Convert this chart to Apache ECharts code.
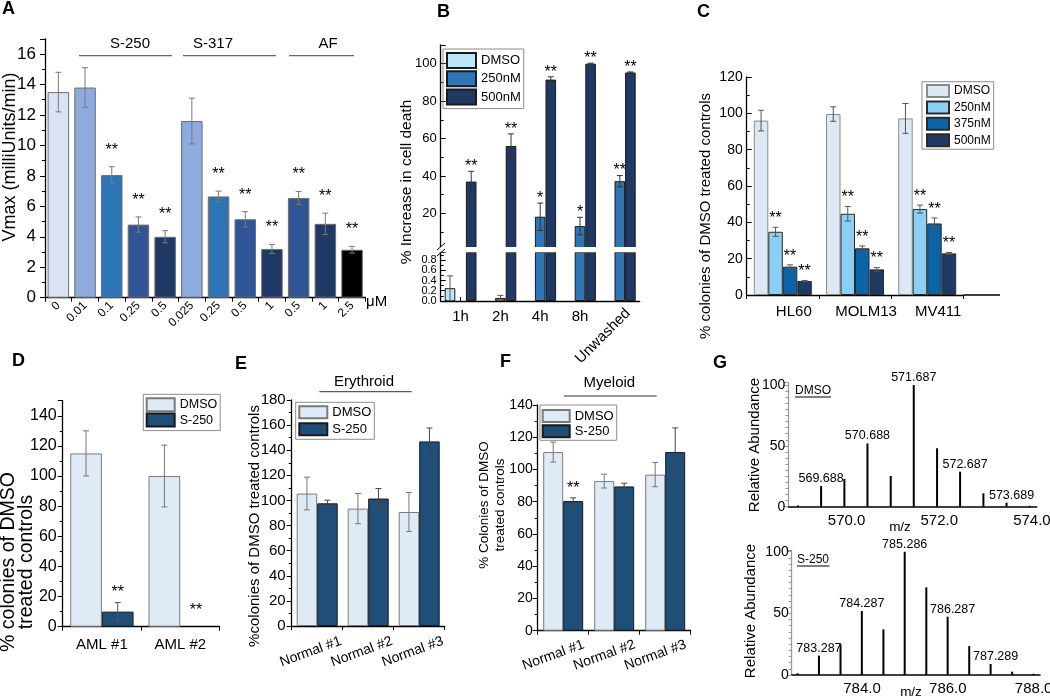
<!DOCTYPE html>
<html>
<head>
<meta charset="utf-8">
<title>Panels A-G</title>
<script src="https://cdn.jsdelivr.net/npm/echarts@6.0.0/dist/echarts.min.js"></script>
<style>
  html, body { margin: 0; padding: 0; background: #fff; }
  #chart { width: 1050px; height: 697px; }
</style>
</head>
<body>
<div id="chart"></div>
<script>
// ---------- data ----------
// A: Vmax (milliUnits/min) per dose (uM)
const aDoses = ['0', '0.01', '0.1', '0.25', '0.5', '0.025', '0.25', '0.5', '1', '0.5', '1', '2.5'];
const aVmax = [13.5, 13.8, 8.05, 4.8, 4.0, 11.6, 6.65, 5.15, 3.2, 6.55, 4.85, 3.15];
const aVmaxErr = [1.3, 1.3, 0.55, 0.5, 0.4, 1.5, 0.35, 0.5, 0.3, 0.43, 0.7, 0.22];
const aStars = ['', '', '**', '**', '**', '', '**', '**', '**', '**', '**', '**'];
const aGroups = ['S-250', 'S-317', 'AF'];

// B: % increase in cell death
const bTimes = ['1h', '2h', '4h', '8h', 'Unwashed'];
const bDmso = [0.25, 0, 0, 0, 0];
const bDmsoErr = [0.24, 0, 0, 0, 0];
const b250 = [0, 0.06, 18.2, 13.2, 37.2];
const b250Err = [0, 0.05, 7.3, 4.7, 3];
const b250Stars = ['', '', '*', '*', '**'];
const b500 = [37, 56, 91.5, 100, 95.3];
const b500Err = [5.5, 6.5, 1.5, 0.3, 0.3];
const b500Stars = ['**', '**', '**', '**', '**'];
const bLowerTicks = [0, 0.2, 0.4, 0.6, 0.8];

// C: % colonies of DMSO treated controls
const cLines = ['HL60', 'MOLM13', 'MV411'];
const cDmso = [96, 99.6, 97.2];
const cDmsoErr = [5.7, 4, 8.2];
const c250 = [34.8, 44.7, 47.3];
const c250Err = [2.5, 4, 2.2];
const c375 = [15.6, 25.7, 39.4];
const c375Err = [1, 1.3, 3];
const c500 = [7.7, 14.1, 22.9];
const c500Err = [0.3, 1, 0.5];

// D: AML samples
const dSamples = ['AML #1', 'AML #2'];
const dDmso = [115, 100];
const dDmsoErr = [15, 20.5];
const dS250 = [10, 0];
const dS250Err = [6, 0];
const dStars = ['**', '**'];

// E: erythroid colonies
const eSamples = ['Normal #1', 'Normal #2', 'Normal #3'];
const eDmso = [105.5, 93.5, 90.8];
const eDmsoErr = [13, 12, 15.5];
const eS250 = [97.7, 101.5, 147];
const eS250Err = [2.5, 8, 10.7];

// F: myeloid colonies
const fSamples = ['Normal #1', 'Normal #2', 'Normal #3'];
const fDmso = [110.8, 92.8, 96.8];
const fDmsoErr = [6.2, 4.3, 7.5];
const fS250 = [80.4, 89.5, 110.8];
const fS250Err = [2, 2, 15];
const fStars = ['**', '', ''];

// G: mass spectra
const gDmsoMz = [569.19, 569.688, 570.19, 570.688, 571.19, 571.687, 572.19, 572.687, 573.19, 573.689, 574.19];
const gDmsoAbund = [1, 17, 22.8, 52, 25.2, 100, 48, 28.8, 11, 3.3, 0.8];
const gDmsoLabels = ['', '569.688', '', '570.688', '', '571.687', '', '572.687', '', '573.689', ''];
const gDmsoTicks = [570, 572, 574];
const gS250Mz = [782.79, 783.287, 783.79, 784.287, 784.79, 785.286, 785.79, 786.287, 786.79, 787.289, 787.79, 788.29];
const gS250Abund = [1.4, 15.7, 24.9, 51.9, 37, 100, 71.1, 47.3, 23.5, 8.9, 2.7, 1];
const gS250Labels = ['', '783.287', '', '784.287', '', '785.286', '', '786.287', '', '787.289', '', ''];
const gS250Ticks = [784, 786, 788];

// ---------- helpers ----------
const FONT = '"Liberation Sans", Arial, Helvetica, sans-serif';
const BLACK = '#000';

function valAxis(gi, max, interval, fs, opts) {
  opts = opts || {};
  const label = {
    fontSize: fs, color: BLACK, fontFamily: FONT, margin: opts.margin || 6,
    showMaxLabel: opts.showMax !== false, showMinLabel: true, hideOverlap: false,
    formatter: opts.formatter
  };
  if (opts.labels) label.customValues = opts.labels;
  return {
    type: 'value', gridIndex: gi, min: 0, max: max, interval: interval,
    axisLine: { show: true, lineStyle: { color: opts.lineColor || BLACK, width: 1.3 } },
    axisTick: { show: true, inside: !!opts.inside, length: 5, lineStyle: { color: opts.lineColor || BLACK } },
    minorTick: { show: true, splitNumber: opts.minor || 2, length: 3, lineStyle: { color: opts.lineColor || BLACK } },
    splitLine: { show: false },
    minorSplitLine: { show: false },
    axisLabel: label
  };
}

function catAxis(gi, data, fs, label, extra) {
  return Object.assign({
    type: 'category', gridIndex: gi, data: data, boundaryGap: true,
    axisLine: { show: true, lineStyle: { color: BLACK, width: 1.3 } },
    axisTick: { show: true, length: 4, lineStyle: { color: BLACK } },
    splitLine: { show: false },
    axisLabel: Object.assign({ fontSize: fs, color: BLACK, fontFamily: FONT, interval: 0 }, label)
  }, extra || {});
}

function bars(name, gi, values, color, border, bw) {
  return {
    type: 'bar', name: name, xAxisIndex: gi, yAxisIndex: gi,
    barWidth: bw, barGap: '0%', silent: true,
    data: values.map(v => (v === 0 ? null : v)),
    itemStyle: { color: color, borderColor: border, borderWidth: 1 }
  };
}

function rowsOf(values, errs, stars, keep) {
  return values
    .map((v, i) => ({ i: i, v: v, e: errs[i], s: stars ? stars[i] : '' }))
    .filter(r => (r.e > 0 || r.s) && (!keep || keep(r)));
}

// error bars and significance stars, drawn through the axes of one grid
function errorBars(gi, rows, n, k, bw, color, gap) {
  return {
    type: 'custom', xAxisIndex: gi, yAxisIndex: gi, z: 5, silent: true,
    data: rows.map(r => [r.i, r.v]),
    encode: { x: 0, y: 1 },
    renderItem: function (params, api) {
      const r = rows[params.dataIndex];
      const cx = api.coord([r.i, r.v])[0] + (k - (n - 1) / 2) * bw;
      const yTop = api.coord([r.i, r.v + r.e])[1];
      const yBot = api.coord([r.i, Math.max(r.v - r.e, 0)])[1];
      const cap = 3;
      const ch = [];
      const st = { stroke: color, lineWidth: 1 };
      if (r.e > 0) {
        ch.push({ type: 'line', shape: { x1: cx, y1: yTop, x2: cx, y2: yBot }, style: st });
        ch.push({ type: 'line', shape: { x1: cx - cap, y1: yTop, x2: cx + cap, y2: yTop }, style: st });
        ch.push({ type: 'line', shape: { x1: cx - cap, y1: yBot, x2: cx + cap, y2: yBot }, style: st });
      }
      if (r.s) {
        const g = r.v === 0 ? gap + 7 : gap;
        ch.push({
          type: 'text',
          style: {
            text: r.s, x: cx, y: yTop - g + 3.5,
            align: 'center', verticalAlign: 'middle', textAlign: 'center', textVerticalAlign: 'middle',
            fontSize: 16, fontFamily: FONT, fill: BLACK
          }
        });
      }
      return { type: 'group', children: ch };
    }
  };
}

function legendBox(names, left, top, w, h, gap, pad, fs) {
  return {
    data: names, left: left, top: top, orient: 'vertical', icon: 'rect',
    itemWidth: w, itemHeight: h, itemGap: gap, padding: pad,
    borderColor: '#8c8c8c', borderWidth: 1, selectedMode: false,
    textStyle: { fontSize: fs, color: BLACK, fontFamily: FONT, lineHeight: h },
    formatter: n => n.split('|')[1]
  };
}

function txt(x, y, text, size, o) {
  o = o || {};
  const el = {
    type: 'text', x: x, y: y, z: 100, silent: true,
    style: {
      text: text, x: 0, y: 0, fill: BLACK,
      fontSize: size, fontFamily: FONT, fontWeight: o.bold ? 'bold' : 'normal',
      align: o.align || 'center', verticalAlign: o.va || 'middle',
      textAlign: o.align || 'center', textVerticalAlign: o.va || 'middle',
      lineHeight: o.lh
    }
  };
  if (o.rot) el.rotation = o.rot;
  return el;
}

function seg(x1, y1, x2, y2, color, w) {
  return { type: 'line', z: 100, silent: true, shape: { x1: x1, y1: y1, x2: x2, y2: y2 }, style: { stroke: color, lineWidth: w } };
}

// ---------- layout ----------
const grids = [
  { left: 45, top: 38.8, width: 320.4, height: 258.9 },      // 0 A
  { left: 440.7, top: 45, width: 199, height: 205.8 },       // 1 B upper
  { left: 440.7, top: 252.3, width: 199, height: 48.7 },     // 2 B lower
  { left: 746.7, top: 77, width: 216.6, height: 218 },       // 3 C
  { left: 62.7, top: 400.7, width: 156.7, height: 226 },     // 4 D
  { left: 291.7, top: 400, width: 153, height: 226 },        // 5 E
  { left: 537.7, top: 405, width: 153, height: 225.7 },      // 6 F
  { left: 788.3, top: 382.6, width: 248.4, height: 124.1 },  // 7 G DMSO
  { left: 791.7, top: 550.5, width: 248.3, height: 124.5 }   // 8 G S-250
].map(g => Object.assign({ containLabel: false, outerBoundsMode: 'none' }, g));

const aBarColors = ['#dae3f3', '#8faadc', '#2e75b6', '#2f5597', '#203864', '#8faadc',
  '#2e75b6', '#2f5597', '#203864', '#2f5597', '#203864', '#000000'];
const bCol = ['#bce6f8', '#2e75b6', '#1f3864'];
const cCol = ['#dce9f5', '#8ccff4', '#0b64a8', '#1f3864'];
const dmsoCol = '#deebf7', s250Col = '#1f4e79';

const xAxes = [
  catAxis(0, aDoses, 12, { rotate: 45, margin: 6 }),
  catAxis(1, bTimes, 15, {}, { show: false }),
  catAxis(2, bTimes, 15, { margin: 8, formatter: v => (v === 'Unwashed' ? '' : v) },
    { axisTick: { show: true, inside: true, alignWithLabel: true, length: 4, lineStyle: { color: BLACK } } }),
  catAxis(3, cLines, 15, { margin: 9, padding: [0, 0, 0, 22] }),
  catAxis(4, dSamples, 15, { margin: 11 }),
  catAxis(5, eSamples, 14, { rotate: 20, align: 'center', verticalAlign: 'top', margin: 16, padding: [0, 19, 0, 0] }),
  catAxis(6, fSamples, 14, { rotate: 20, align: 'center', verticalAlign: 'top', margin: 13.5, padding: [0, 26, 0, 0] }),
  {
    type: 'value', gridIndex: 7, min: 568.98, max: 574.34,
    axisLine: { show: true, onZero: false, lineStyle: { color: BLACK, width: 1.6 } },
    axisTick: { show: false }, splitLine: { show: false },
    axisLabel: { customValues: gDmsoTicks, formatter: v => v.toFixed(1), fontSize: 15, color: BLACK,
      fontFamily: FONT, margin: 7, padding: [0, 0, 0, 22] }
  },
  {
    type: 'value', gridIndex: 8, min: 782.652, max: 788.44,
    axisLine: { show: true, onZero: false, lineStyle: { color: BLACK, width: 1.6 } },
    axisTick: { show: false }, splitLine: { show: false },
    axisLabel: { customValues: gS250Ticks, formatter: v => v.toFixed(1), fontSize: 15, color: BLACK,
      fontFamily: FONT, margin: 6, padding: [0, 0, 0, 25] }
  }
];

// the lower half of B packs its labels tightly, so they are split over two
// overlaid axes of the same grid (alternate labels) to keep all of them
const bLowA = bLowerTicks.filter((v, i) => i % 2 === 0);
const bLowB = bLowerTicks.filter((v, i) => i % 2 === 1);
const bLowFmt = v => v.toFixed(1);

const yAxes = [
  valAxis(0, 17, 2, 17, { margin: 9, showMax: false }),
  valAxis(1, 110, 20, 13, { inside: true, margin: 4, formatter: v => (v === 0 || v > 100 ? '' : String(v)) }),
  valAxis(2, 0.95, 0.2, 11, { inside: true, margin: 4, labels: bLowA, formatter: bLowFmt }),
  valAxis(3, 120, 20, 14, { inside: true, margin: 4 }),
  valAxis(4, 150, 20, 16, { margin: 6, showMax: false }),
  valAxis(5, 180, 20, 15, { margin: 6 }),
  valAxis(6, 140, 20, 14, { margin: 5 }),
  valAxis(7, 102, 50, 14, { margin: 3, showMax: false, minor: 10, lineColor: '#9a9a9a' }),
  valAxis(8, 101, 50, 14, { margin: 3, showMax: false, minor: 10, lineColor: '#9a9a9a' })
];
const bLowExtra = valAxis(2, 0.95, 0.2, 11, { margin: 4, labels: bLowB, formatter: bLowFmt });
bLowExtra.position = 'left';
bLowExtra.offset = 0;
bLowExtra.axisLine.show = false;
bLowExtra.axisTick.show = false;
bLowExtra.minorTick.show = false;
yAxes.push(bLowExtra);
yAxes[2].position = 'left';

// ---------- series ----------
const series = [];

// A
series.push({
  type: 'bar', xAxisIndex: 0, yAxisIndex: 0, barWidth: 21.5, silent: true,
  data: aVmax.map((v, i) => ({ value: v, itemStyle: { color: aBarColors[i] } })),
  itemStyle: { borderColor: '#6f6f6f', borderWidth: 1 }
});
series.push(errorBars(0, rowsOf(aVmax, aVmaxErr, aStars), 1, 0, 21.5, '#7a7a7a', 20));

// B (upper and lower halves of the broken axis)
const bSets = [[bDmso, bDmsoErr, null], [b250, b250Err, b250Stars], [b500, b500Err, b500Stars]];
const bNames = ['b|DMSO', 'b|250nM', 'b|500nM'];
[1, 2].forEach(gi => {
  bSets.forEach((s, k) => series.push(bars(bNames[k], gi, s[0], bCol[k], '#1a1a1a', 10.6)));
});
bSets.forEach((s, k) => {
  series.push(errorBars(1, rowsOf(s[0], s[1], s[2], r => r.v >= 1), 3, k, 10.6, '#333', 8));
  series.push(errorBars(2, rowsOf(s[0], s[1], s[2], r => r.v < 1), 3, k, 10.6, '#555', 8));
});

// C
const cSets = [[cDmso, cDmsoErr, null], [c250, c250Err, ['**', '**', '**']],
  [c375, c375Err, ['**', '**', '**']], [c500, c500Err, ['**', '**', '**']]];
const cNames = ['c|DMSO', 'c|250nM', 'c|375nM', 'c|500nM'];
cSets.forEach((s, k) => {
  series.push(bars(cNames[k], 3, s[0], cCol[k], k === 0 ? '#8a8a8a' : '#2a2a2a', 14.5));
  series.push(errorBars(3, rowsOf(s[0], s[1], s[2]), 4, k, 14.5, '#555', 12));
});

// D
series.push(bars('d|DMSO', 4, dDmso, dmsoCol, '#7a7a7a', 31.7));
series.push(bars('d|S-250', 4, dS250, s250Col, '#1a1a1a', 31.7));
series.push(errorBars(4, rowsOf(dDmso, dDmsoErr, null), 2, 0, 31.7, '#777', 13));
series.push(errorBars(4, rowsOf(dS250, dS250Err, dStars), 2, 1, 31.7, '#555', 13));

// E
series.push(bars('e|DMSO', 5, eDmso, dmsoCol, '#7a7a7a', 20.5));
series.push(bars('e|S-250', 5, eS250, s250Col, '#1a1a1a', 20.5));
series.push(errorBars(5, rowsOf(eDmso, eDmsoErr, null), 2, 0, 20.5, '#777', 13));
series.push(errorBars(5, rowsOf(eS250, eS250Err, null), 2, 1, 20.5, '#444', 13));

// F
series.push(bars('f|DMSO', 6, fDmso, dmsoCol, '#7a7a7a', 20));
series.push(bars('f|S-250', 6, fS250, s250Col, '#1a1a1a', 20));
series.push(errorBars(6, rowsOf(fDmso, fDmsoErr, null), 2, 0, 20, '#777', 13));
series.push(errorBars(6, rowsOf(fS250, fS250Err, fStars), 2, 1, 20, '#444', 13));

// G spectra
function spectrum(gi, mz, ab, labels) {
  const base = ab.indexOf(Math.max.apply(null, ab));
  return {
    type: 'bar', xAxisIndex: gi, yAxisIndex: gi, barWidth: 2, silent: true,
    itemStyle: { color: BLACK },
    label: { position: 'top', distance: 1, fontSize: 12.5, color: BLACK, fontFamily: FONT },
    data: mz.map((m, i) => ({
      value: [m, ab[i]],
      label: { show: !!labels[i], formatter: labels[i] || '', offset: [i > base ? 5 : 0, 0] }
    }))
  };
}
series.push(spectrum(7, gDmsoMz, gDmsoAbund, gDmsoLabels));
series.push(spectrum(8, gS250Mz, gS250Abund, gS250Labels));

// ---------- legends ----------
const legends = [
  legendBox(bNames, 443, 49, 29, 15, 1.3, [3, 3, 3, 3], 13),
  legendBox(cNames, 922, 81.7, 22, 12, 2.4, [2.3, 3, 2, 4], 12),
  legendBox(['d|DMSO', 'd|S-250'], 143.3, 394.3, 28, 13, 0.3, [3, 3, 3, 2.4], 12.5),
  legendBox(['e|DMSO', 'e|S-250'], 295.7, 402.3, 28, 12, 3, [3, 3, 3, 2.6], 13),
  legendBox(['f|DMSO', 'f|S-250'], 540, 405, 27, 12, 1.3, [4, 3, 2, 1.7], 13)
];

// ---------- annotations ----------
const up = Math.PI / 2;
const graphics = [
  // panel letters
  txt(2, 9.5, 'A', 18, { bold: true, align: 'left' }),
  txt(437, 11.7, 'B', 18, { bold: true, align: 'left' }),
  txt(697, 11.7, 'C', 18, { bold: true, align: 'left' }),
  txt(12, 361, 'D', 18, { bold: true, align: 'left' }),
  txt(235, 364.5, 'E', 18, { bold: true, align: 'left' }),
  txt(500, 362.5, 'F', 18, { bold: true, align: 'left' }),
  txt(713, 363.5, 'G', 18, { bold: true, align: 'left' }),

  // A
  txt(130, 44, aGroups[0], 15), seg(79, 55.7, 172, 55.7, '#666', 1.2),
  txt(213, 44, aGroups[1], 15), seg(183, 55.7, 276, 55.7, '#666', 1.2),
  txt(328, 44, aGroups[2], 15), seg(289, 55.7, 354, 55.7, '#666', 1.2),
  txt(366, 302, 'μM', 15, { align: 'left' }),
  txt(10, 157, 'Vmax (milliUnits/min)', 18, { rot: up }),

  // B: axis break and labels
  { type: 'rect', z: 90, silent: true, shape: { x: 434, y: 247, width: 208, height: 5.3 }, style: { fill: '#fff' } },
  seg(437, 250, 445, 243, BLACK, 1),
  seg(437, 256, 445, 249, BLACK, 1),
  txt(628, 311, 'Unwashed', 15, { align: 'right', rot: Math.PI / 4 }),
  txt(407, 182, '% Increase in cell death', 15.5, { rot: up }),

  // C
  seg(963.3, 295, 1000, 295, BLACK, 1.3),
  txt(706, 216, '% colonies of DMSO treated controls', 15, { rot: up }),

  // D
  txt(18, 562, '% colonies of DMSO\ntreated controls', 19.5, { rot: up, lh: 18 }),

  // E
  txt(364, 381.7, 'Erythroid', 15), seg(319.3, 391.7, 411.7, 391.7, '#333', 1),
  txt(255, 526, '%colonies of DMSO treated controls', 15, { rot: up }),

  // F
  txt(609.3, 383.3, 'Myeloid', 15), seg(564, 396, 656.7, 396, '#333', 1),
  txt(492, 505, '% Colonies of DMSO\ntreated controls', 13.5, { rot: up, lh: 16 }),

  // G
  txt(795, 391, 'DMSO', 12, { align: 'left' }), seg(795, 397, 831, 397, BLACK, 1),
  txt(797, 560, 'S-250', 12, { align: 'left' }), seg(797, 566, 829.5, 566, BLACK, 1),
  txt(900, 527, 'm/z', 13.5),
  txt(911, 692, 'm/z', 13.5),
  txt(755, 445, 'Relative Abundance', 15, { rot: up }),
  txt(751, 611, 'Relative Abundance', 15, { rot: up })
];

const chart = echarts.init(document.getElementById('chart'), null, { renderer: 'canvas' });
chart.setOption({
  animation: false,
  backgroundColor: '#fff',
  textStyle: { fontFamily: FONT },
  grid: grids,
  xAxis: xAxes,
  yAxis: yAxes,
  legend: legends,
  series: series,
  graphic: { elements: graphics }
});
window.addEventListener('resize', () => chart.resize());
</script>
</body>
</html>
